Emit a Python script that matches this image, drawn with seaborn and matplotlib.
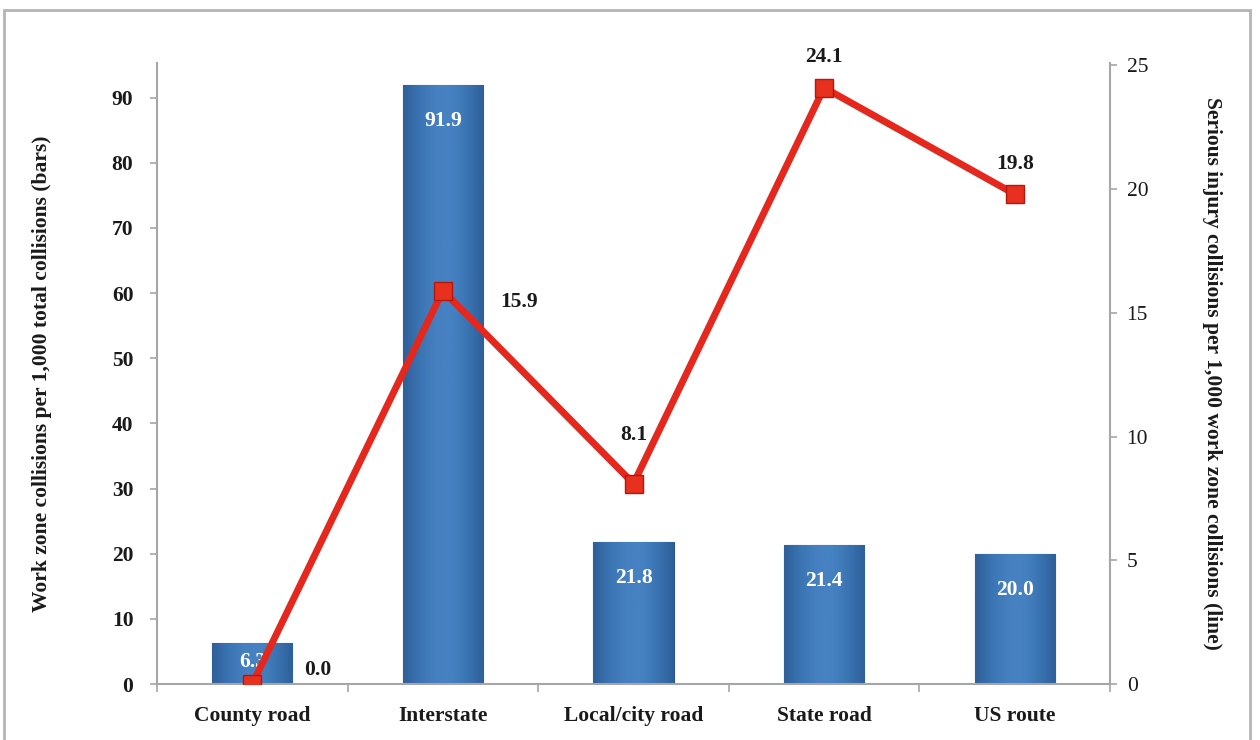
import numpy as np
import matplotlib
matplotlib.use("Agg")
import matplotlib.pyplot as plt
import seaborn as sns
from matplotlib.patches import Rectangle
from matplotlib.colors import LinearSegmentedColormap

categories = ["County road", "Interstate", "Local/city road", "State road", "US route"]
bar_values = [6.3, 91.9, 21.8, 21.4, 20.0]
line_values = [0.0, 15.9, 8.1, 24.1, 19.8]
left_ticks = [0, 10, 20, 30, 40, 50, 60, 70, 80, 90]
right_ticks = [0, 5, 10, 15, 20, 25]

sns.set_theme(style="white")
plt.rcParams['font.family'] = ['Liberation Serif', 'DejaVu Serif']

FS = 15.5
fig = plt.figure(figsize=(12.6, 7.4), dpi=100)
ax = fig.add_axes([157/1260, 1-684/740, (1110-157)/1260, (684-63)/740])

sns.barplot(x=categories, y=bar_values, ax=ax, color="#3f78b8", width=0.42,
            saturation=1, errorbar=None)

# gradient fill on each bar
grad_cmap = LinearSegmentedColormap.from_list(
    "bar", ["#2e609a", "#3b74b3", "#4680c0", "#4682c2", "#3b74b3", "#2e609a"])
gx = np.linspace(0, 1, 64).reshape(1, -1)
for p in ax.patches:
    x0, y0 = p.get_x(), p.get_y()
    w, h = p.get_width(), p.get_height()
    im = ax.imshow(gx, cmap=grad_cmap, extent=[x0, x0 + w, y0, y0 + h],
                   aspect="auto", zorder=p.get_zorder() + 0.1, origin="lower")
    im.set_clip_path(p)
    p.set_edgecolor("#2a5288")
    p.set_linewidth(0.8)

ax.set_xlim(-0.5, 4.5)
ax.set_ylim(0, 95.3)

# bar value labels
for i, v in enumerate(bar_values):
    if v > 12:
        ax.annotate(f"{v:.1f}", xy=(i, v), xytext=(0, -26), textcoords="offset points",
                    ha="center", va="center", color="white", fontsize=FS, fontweight="bold",
                    zorder=6)
    else:
        ax.text(i, v / 2 + 0.3, f"{v:.1f}", ha="center", va="center", color="white",
                fontsize=FS, fontweight="bold", zorder=6)

ax2 = ax.twinx()
sns.pointplot(x=categories, y=line_values, ax=ax2, color="#e5281d", markers="s",
              linestyles="-", errorbar=None, markersize=12.5, linewidth=5)
for ln in ax2.lines:
    ln.set_markeredgecolor("#b3170f")
    ln.set_markerfacecolor("#e8301f")
    ln.set_markeredgewidth(1.0)
    ln.set_solid_capstyle("butt")
for c in ax2.collections:
    c.set_edgecolor("#b3170f")
ax2.set_xlim(-0.5, 4.5)
ax2.set_ylim(0, 25.1)

line_offsets = [(47, 10), (55, -8), (0, 35), (0, 22), (0, 22)]
for i, v in enumerate(line_values):
    ax2.annotate(f"{v:.1f}", xy=(i, v), xytext=line_offsets[i], textcoords="offset points",
                 ha="center", va="center", color="#1a1a1a", fontsize=FS, fontweight="bold")

# axes styling
spine_col = "#a6a6a6"
for a in (ax, ax2):
    for s in a.spines.values():
        s.set_visible(False)
ax.spines["left"].set_visible(True)
ax.spines["bottom"].set_visible(True)
ax2.spines["right"].set_visible(True)
for s in (ax.spines["left"], ax.spines["bottom"], ax2.spines["right"]):
    s.set_color(spine_col)
    s.set_linewidth(1.5)

ax.set_yticks(left_ticks)
ax.set_yticklabels([str(t) for t in left_ticks], fontsize=FS, fontweight="bold", color="#1a1a1a")
ax.tick_params(axis="y", left=True, length=5, width=1.2, color=spine_col, pad=12, direction="out")

ax.set_xticks(range(len(categories)))
ax.set_xticklabels(categories, fontsize=FS, fontweight="bold", color="#1a1a1a")
ax.tick_params(axis="x", bottom=False, pad=10)
ax.set_xticks(np.arange(-0.5, 5.0, 1.0), minor=True)
ax.tick_params(axis="x", which="minor", bottom=True, length=6, width=1.2, color=spine_col)

ax2.set_yticks(right_ticks)
ax2.set_yticklabels([str(t) for t in right_ticks], fontsize=FS, color="#1a1a1a")
ax2.tick_params(axis="y", right=True, length=5, width=1.2, color=spine_col, pad=7, direction="out")

ax.set_xlabel("")
ax.set_ylabel("Work zone collisions per 1,000 total collisions (bars)", fontsize=FS,
              fontweight="bold", color="#1a1a1a", va="center")
ax.yaxis.set_label_coords(-(157 - 42) / 953, 0.5)
ax2.set_ylabel("Serious injury collisions per 1,000 work zone collisions (line)", fontsize=FS,
               fontweight="bold", color="#1a1a1a", rotation=270, va="center")
ax2.yaxis.set_label_coords(1 + (1212 - 1110) / 953, 0.5)
ax.grid(False)
ax2.grid(False)

# outer frame
fig.patches.append(Rectangle((4/1260, -0.05), 1246/1260, 1.05 - 10/740,
                             transform=fig.transFigure, fill=False,
                             edgecolor="#b5b5b5", linewidth=2))

fig.savefig("out.png", dpi=100)
